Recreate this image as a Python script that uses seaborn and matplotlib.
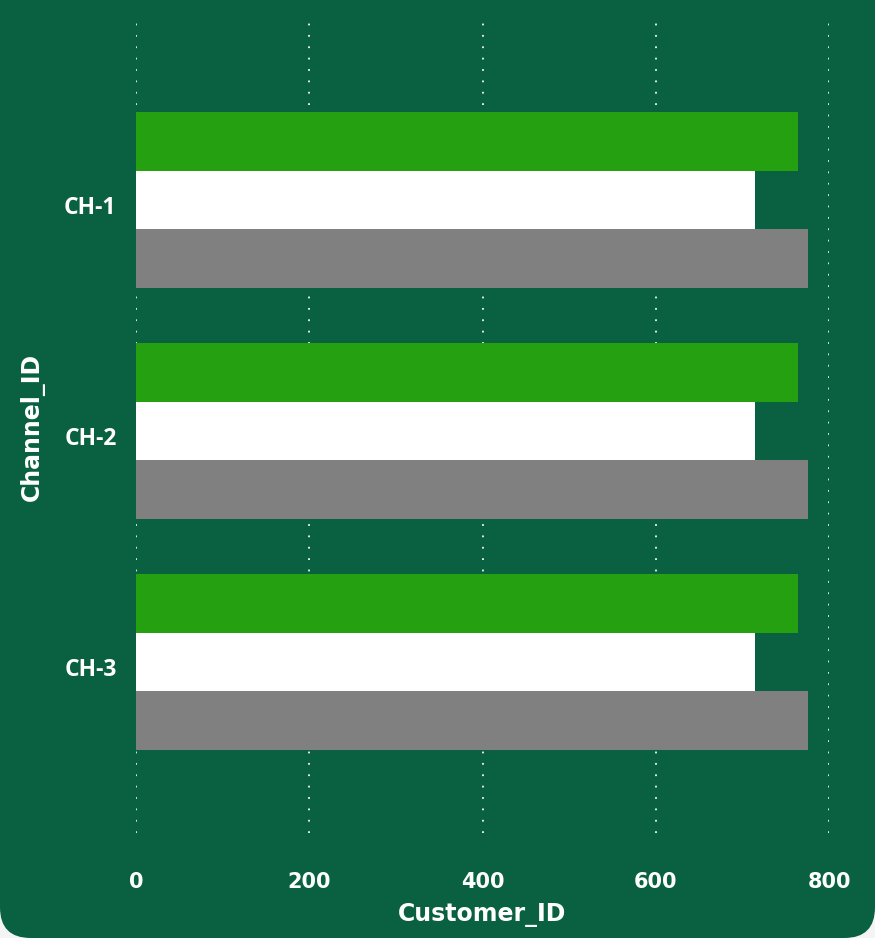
import matplotlib
matplotlib.use("Agg")
import matplotlib.pyplot as plt
import matplotlib.transforms as mtransforms
import seaborn as sns
import pandas as pd
from matplotlib.patches import FancyBboxPatch

channels = ["CH-1", "CH-2", "CH-3"]
series_names = ["S1", "S2", "S3"]
s1_values = [764, 764, 764]
s2_values = [715, 715, 715]
s3_values = [776, 776, 776]
x_ticks = [0, 200, 400, 600, 800]
colors = ["#24a010", "#ffffff", "#808080"]

rows = []
for name, vals in zip(series_names, [s1_values, s2_values, s3_values]):
    for ch, v in zip(channels, vals):
        rows.append({"Channel_ID": ch, "Customer_ID": v, "Series": name})
df = pd.DataFrame(rows)

sns.set_style("white")
plt.rcParams["font.family"] = ["Open Sans", "DejaVu Sans"]

BG = "#096142"
fig = plt.figure(figsize=(8.75, 9.38), dpi=100, facecolor="#f4f4f4")
bgpatch = FancyBboxPatch((0.0, 0.0), 1.0, 1.2, boxstyle="round,pad=0,rounding_size=0.035",
                         transform=fig.transFigure, facecolor=BG, edgecolor="none",
                         mutation_aspect=875 / 938, zorder=-10)
fig.patches.append(bgpatch)

ax = fig.add_axes([136 / 875, 1 - 833 / 938, 693 / 875, (833 - 20) / 938])
ax.set_facecolor("none")

sns.barplot(data=df, y="Channel_ID", x="Customer_ID", hue="Series", order=channels,
            hue_order=series_names, palette=colors, orient="h", width=0.762,
            saturation=1, legend=False, ax=ax, zorder=3)
for p in ax.patches:
    p.set_edgecolor("none")

ax.set_xlim(0, 800)
ax.set_ylim(2.74, -0.78)
ax.set_xticks(x_ticks)
ax.set_xticklabels([str(t) for t in x_ticks], color="white", fontweight="bold", fontsize=15,
                   family=["Liberation Sans Narrow", "DejaVu Sans"])
ax.tick_params(axis="both", length=0)
ax.tick_params(axis="x", pad=28)
ax.tick_params(axis="y", pad=14)
shift = mtransforms.ScaledTranslation(0, -5 / 100, fig.dpi_scale_trans)
for lbl in ax.get_yticklabels():
    lbl.set_color("white")
    lbl.set_fontweight("bold")
    lbl.set_fontsize(16.5)
    lbl.set_transform(lbl.get_transform() + shift)
ax.grid(axis="x", color="#f0f6f2", linewidth=1.3, linestyle=(0, (1, 5.3)), zorder=0)
ax.grid(axis="y", visible=False)
for s in ax.spines.values():
    s.set_visible(False)

ax.set_xlabel("Customer_ID", color="white", fontweight="bold", fontsize=17,
              family=["Liberation Sans Narrow", "DejaVu Sans"], labelpad=8)
ax.set_ylabel("Channel_ID", color="white", fontweight="bold", fontsize=17,
              family=["Liberation Sans Narrow", "DejaVu Sans"], labelpad=14)

fig.savefig("out.png", dpi=100, facecolor=fig.get_facecolor())
